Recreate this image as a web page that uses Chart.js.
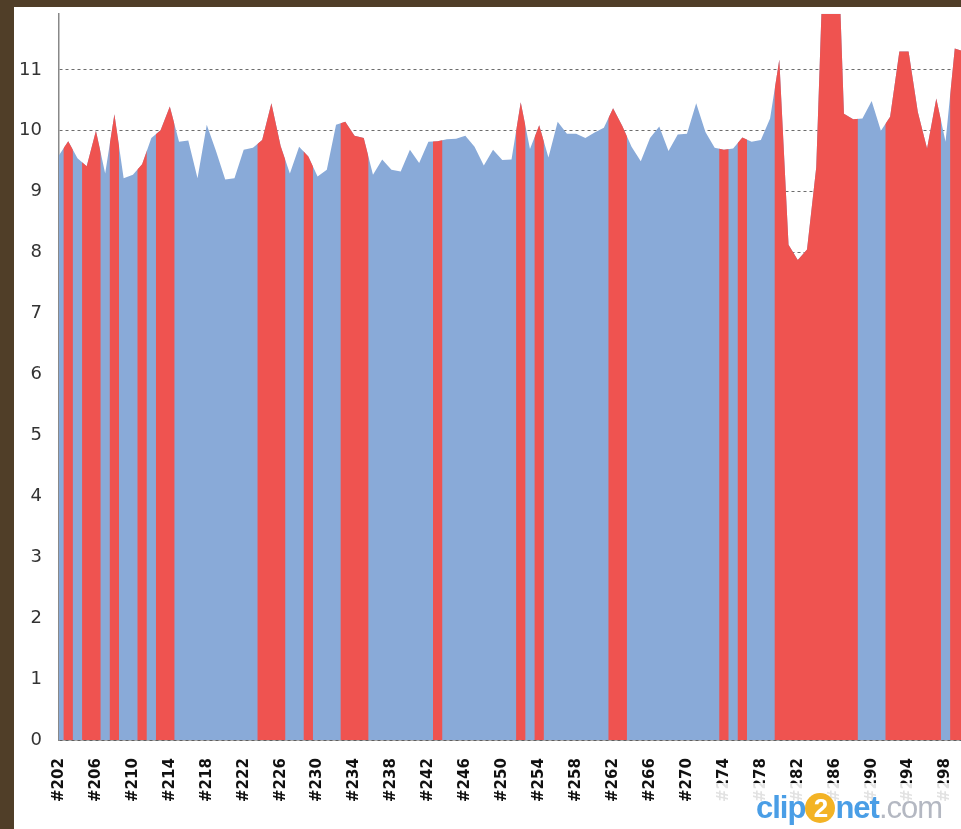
<!DOCTYPE html>
<html>
<head>
<meta charset="utf-8">
<script src="https://cdn.jsdelivr.net/npm/chart.js@4.4.1/dist/chart.umd.min.js"></script>
<style>
  html, body { margin: 0; padding: 0; width: 961px; height: 829px; overflow: hidden; background: #503e28; }
  #panel { position: absolute; left: 14px; top: 7px; width: 947px; height: 822px; background: #fff; overflow: hidden; }
  #wrap { position: absolute; left: 0; top: -21px; width: 986px; height: 864px; }
  #haze { position: absolute; left: 701px; top: 776px; width: 260px; height: 60px; background: rgba(255,255,255,0.88); }
  #mark { position: absolute; left: 742px; top: 783px; font: bold 31px "Liberation Sans", Arial, sans-serif; letter-spacing: -1px; white-space: nowrap; }
  #mark .b { color: #4a9ee6; }
  #mark .two { display: inline-block; width: 30px; height: 30px; border-radius: 15px; background: #f3b325; color: #fff; text-align: center; line-height: 30px; font-size: 26px; vertical-align: 1px; }
  #mark .g { color: #b4b8c2; font-weight: normal; }
</style>
</head>
<body>
<div id="panel">
  <div id="wrap"><canvas id="chart"></canvas></div>
  <div id="haze"></div>
  <div id="mark"><span class="b">clip</span><span class="two">2</span><span class="b">net</span><span class="g">.com</span></div>
</div>
<script>
// builds #202 .. #300
const labels = [
  "#202","#203","#204","#205","#206","#207","#208","#209","#210","#211",
  "#212","#213","#214","#215","#216","#217","#218","#219","#220","#221",
  "#222","#223","#224","#225","#226","#227","#228","#229","#230","#231",
  "#232","#233","#234","#235","#236","#237","#238","#239","#240","#241",
  "#242","#243","#244","#245","#246","#247","#248","#249","#250","#251",
  "#252","#253","#254","#255","#256","#257","#258","#259","#260","#261",
  "#262","#263","#264","#265","#266","#267","#268","#269","#270","#271",
  "#272","#273","#274","#275","#276","#277","#278","#279","#280","#281",
  "#282","#283","#284","#285","#286","#287","#288","#289","#290","#291",
  "#292","#293","#294","#295","#296","#297","#298","#299","#300"
];

const values = [
  9.6, 9.83, 9.55, 9.42, 10.0, 9.3, 10.27, 9.22, 9.28, 9.45,
  9.88, 10.01, 10.4, 9.82, 9.84, 9.22, 10.1, 9.67, 9.2, 9.22,
  9.69, 9.72, 9.85, 10.45, 9.75, 9.3, 9.74, 9.58, 9.25, 9.36,
  10.1, 10.15, 9.92, 9.88, 9.28, 9.53, 9.36, 9.33, 9.69, 9.47,
  9.82, 9.83, 9.86, 9.87, 9.92, 9.74, 9.43, 9.69, 9.52, 9.53,
  10.47, 9.7, 10.09, 9.56, 10.15, 9.95, 9.95, 9.88, 9.97, 10.05,
  10.37, 10.08, 9.74, 9.5, 9.88, 10.07, 9.67, 9.94, 9.95, 10.45,
  9.98, 9.72, 9.69, 9.71, 9.89, 9.82, 9.85, 10.2, 11.17, 8.13,
  7.88, 8.05, 9.4, 13.9, 14.7, 10.28, 10.19, 10.2, 10.49, 10.0,
  10.23, 11.3, 11.3, 10.31, 9.71, 10.53, 9.82, 11.35, 11.3
];

// builds drawn in red
const redBuilds = [
  "#203","#205","#206","#208","#211","#213","#214","#224","#225","#226",
  "#229","#233","#234","#235","#243","#252","#254","#262","#263","#274",
  "#276","#280","#281","#282","#283","#284","#285","#286","#287","#288",
  "#292","#293","#294","#295","#296","#297","#299","#300"
];

const xTickLabels = [
  "#202","#206","#210","#214","#218","#222","#226","#230","#234","#238",
  "#242","#246","#250","#254","#258","#262","#266","#270","#274","#278",
  "#282","#286","#290","#294","#298"
];
const yTicks = [0, 1, 2, 3, 4, 5, 6, 7, 8, 9, 10, 11];

const BLUE = "#89aad8";
const RED = "#ef5350";

// datasets draw last-to-first: blue (1) then red (0).
// set the clip after blue is done so it is active while the filler paints red
const redClip = {
  id: "redClip",
  afterDatasetDraw(chart, args) {
    const ctx = chart.ctx;
    if (args.index === 1) {
      const xs = chart.scales.x;
      const area = chart.chartArea;
      const step = xs.getPixelForValue(1) - xs.getPixelForValue(0);
      ctx.save();
      ctx.beginPath();
      labels.forEach((l, i) => {
        if (redBuilds.includes(l)) {
          const px = xs.getPixelForValue(i);
          ctx.rect(px - step / 2, area.top, step, area.bottom - area.top);
        }
      });
      ctx.clip();
    } else if (args.index === 0) {
      ctx.restore();
    }
  }
};

new Chart(document.getElementById("chart"), {
  type: "line",
  data: {
    labels: labels,
    datasets: [
      {
        data: values,
        fill: "origin",
        backgroundColor: RED,
        borderWidth: 0,
        borderColor: "rgba(0,0,0,0)",
        pointRadius: 0,
        tension: 0
      },
      {
        data: values,
        fill: "origin",
        backgroundColor: BLUE,
        borderWidth: 0,
        borderColor: "rgba(0,0,0,0)",
        pointRadius: 0,
        tension: 0
      }
    ]
  },
  options: {
    responsive: true,
    maintainAspectRatio: false,
    animation: false,
    layout: { padding: { left: 0, right: 10, top: 5, bottom: 30 } },
    plugins: { legend: { display: false }, tooltip: { enabled: false } },
    scales: {
      x: {
        offset: false,
        grid: { display: false, drawTicks: false },
        border: { display: true, color: "#555", width: 1.5 },
        ticks: {
          autoSkip: false,
          minRotation: 90,
          maxRotation: 90,
          padding: 18,
          color: "#111",
          font: { family: "DejaVu Sans", size: 15, weight: "bold" },
          callback: function (v, i) {
            return xTickLabels.includes(labels[i]) ? labels[i] : "";
          }
        }
      },
      y: {
        min: 0,
        max: 11.92,
        z: 1,
        afterBuildTicks: (axis) => { axis.ticks = yTicks.map(v => ({ value: v })); },
        afterFit: (axis) => { axis.width = 45; },
        grid: { color: "rgba(30,30,30,0.65)", lineWidth: 1, drawTicks: false },
        border: { display: true, color: "#888", width: 1.5, dash: [3, 3] },
        ticks: {
          padding: 17,
          color: "#333",
          font: { family: "DejaVu Sans", size: 18 }
        }
      }
    }
  },
  plugins: [redClip]
});
</script>
</body>
</html>
